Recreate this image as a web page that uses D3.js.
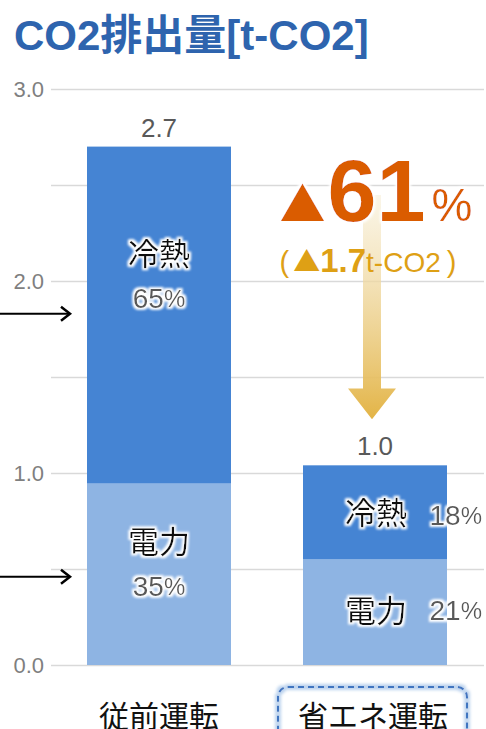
<!DOCTYPE html>
<html>
<head>
<meta charset="utf-8">
<script src="https://cdn.jsdelivr.net/npm/d3@7"></script>
<style>
  html, body { margin: 0; padding: 0; background: #fff; }
  svg { display: block; }
</style>
</head>
<body>
<div id="chart"></div>
<script>
const categories = ["従前運転", "省エネ運転"];
const seriesNames = ["電力", "冷熱"];
const powerValues = [0.945, 0.55];
const coolValues = [1.755, 0.49];
const totalLabels = ["2.7", "1.0"];
const powerShares = ["35", "21"];
const coolShares = ["65", "18"];
const yTicks = [0, 0.5, 1, 1.5, 2, 2.5, 3];

const W = 486, H = 729;
const jp = "'Noto Sans CJK JP', sans-serif";
const lat = "'Liberation Sans', Arial, sans-serif";

const svg = d3.select("#chart").append("svg")
  .attr("width", W).attr("height", H);

const defs = svg.append("defs");
const glow = defs.append("filter").attr("id", "glow")
  .attr("x", "-30%").attr("y", "-30%").attr("width", "160%").attr("height", "160%");
glow.append("feMorphology").attr("in", "SourceAlpha").attr("operator", "dilate").attr("radius", 2).attr("result", "d");
glow.append("feGaussianBlur").attr("in", "d").attr("stdDeviation", 1.2).attr("result", "b");
glow.append("feFlood").attr("flood-color", "#fff");
glow.append("feComposite").attr("in2", "b").attr("operator", "in").attr("result", "w");
const gm = glow.append("feMerge");
gm.append("feMergeNode").attr("in", "w");
gm.append("feMergeNode").attr("in", "SourceGraphic");

const boxGlow = defs.append("filter").attr("id", "boxGlow")
  .attr("x", "-20%").attr("y", "-50%").attr("width", "140%").attr("height", "200%");
boxGlow.append("feMorphology").attr("in", "SourceAlpha").attr("operator", "dilate").attr("radius", 2).attr("result", "d");
boxGlow.append("feGaussianBlur").attr("in", "d").attr("stdDeviation", 1.5).attr("result", "b");
boxGlow.append("feFlood").attr("flood-color", "#bcd3ee");
boxGlow.append("feComposite").attr("in2", "b").attr("operator", "in").attr("result", "w");
const bm = boxGlow.append("feMerge");
bm.append("feMergeNode").attr("in", "w");
bm.append("feMergeNode").attr("in", "SourceGraphic");

const grad = defs.append("linearGradient").attr("id", "arrowGrad")
  .attr("x1", 0).attr("y1", 0).attr("x2", 0).attr("y2", 1);
grad.append("stop").attr("offset", "0%").attr("stop-color", "#f7efd9").attr("stop-opacity", 0.6);
grad.append("stop").attr("offset", "100%").attr("stop-color", "#e3b446");

// scales
const y = d3.scaleLinear().domain([0, 3]).range([665, 89]);
const x = d3.scaleBand().domain(categories).range([51, 483])
  .paddingInner(1 / 3).paddingOuter(1 / 6);

// title
svg.append("text")
  .attr("x", 14).attr("y", 50)
  .attr("font-weight", "bold")
  .attr("font-size", 42).attr("fill", "#2e64ae")
  .style("font-family", "'Liberation Sans', 'Noto Sans CJK JP', sans-serif")
  .text("CO2排出量[t-CO2]");

// grid + axis
const yAxis = d3.axisLeft(y)
  .tickValues(yTicks)
  .tickSize(-(W - 2 - 51))
  .tickPadding(8)
  .tickFormat(d => Number.isInteger(d) ? d3.format(".1f")(d) : "");
const gy = svg.append("g").attr("transform", "translate(51,0)").call(yAxis);
gy.select(".domain").remove();
gy.selectAll("line").attr("stroke", "#d9d9d9").attr("stroke-width", 1.5);
gy.selectAll("text").attr("font-family", lat).attr("font-size", 22)
  .attr("fill", "#7f7f7f").attr("x", -7);

// stacked bars
const rows = categories.map((c, i) => ({ cat: c, 電力: powerValues[i], 冷熱: coolValues[i] }));
const stack = d3.stack().keys(seriesNames)(rows);
const colors = { "電力": "#8eb4e3", "冷熱": "#4584d3" };

svg.append("g").selectAll("g").data(stack).join("g")
  .attr("fill", d => colors[d.key])
  .selectAll("rect").data(d => d).join("rect")
  .attr("x", d => x(d.data.cat))
  .attr("y", d => y(d[1]))
  .attr("width", x.bandwidth())
  .attr("height", d => y(d[0]) - y(d[1]));

// total labels
svg.append("g").selectAll("text").data(categories).join("text")
  .attr("x", d => x(d) + x.bandwidth() / 2)
  .attr("y", (d, i) => y(powerValues[i] + coolValues[i]) - 10)
  .attr("text-anchor", "middle")
  .attr("font-family", lat).attr("font-size", 26).attr("fill", "#595959")
  .text((d, i) => totalLabels[i]);

// segment labels
const segLabel = (g, tx, ty, name, anchor) => {
  g.append("text")
    .attr("x", tx).attr("y", ty)
    .attr("text-anchor", anchor)
    .attr("dominant-baseline", "central")
    .attr("font-family", jp).attr("font-size", 31).attr("fill", "#111")
    .attr("filter", "url(#glow)")
    .text(name);
};
const pctLabel = (g, tx, ty, v, anchor) => {
  const t = g.append("text")
    .attr("x", tx).attr("y", ty)
    .attr("text-anchor", anchor)
    .attr("dominant-baseline", "central")
    .attr("font-family", lat).attr("font-size", 28).attr("fill", "#595959")
    .attr("filter", "url(#glow)");
  t.append("tspan").text(v);
  t.append("tspan").attr("font-size", 24).text("%");
};

const labels = svg.append("g");
// 従前運転: name above percentage
const c0 = x(categories[0]) + x.bandwidth() / 2;
const coolY0 = y(powerValues[0] + coolValues[0] * 0.69);
const powY0 = y(powerValues[0] * 0.69);
segLabel(labels, c0, coolY0, "冷熱", "middle");
pctLabel(labels, c0, coolY0 + 47, coolShares[0], "middle");
segLabel(labels, c0, powY0, "電力", "middle");
pctLabel(labels, c0, powY0 + 46, powerShares[0], "middle");

// 省エネ運転: name and percentage side by side
const x1 = x(categories[1]);
segLabel(labels, x1 + x.bandwidth() - 40, y(powerValues[1] + coolValues[1] / 2) - 2, "冷熱", "end");
pctLabel(labels, W - 4, y(powerValues[1] + coolValues[1] / 2) + 3, coolShares[1], "end");
segLabel(labels, x1 + x.bandwidth() - 40, y(powerValues[1] / 2) - 4, "電力", "end");
pctLabel(labels, W - 4, y(powerValues[1] / 2) - 2, powerShares[1], "end");

// reduction arrow (gradient)
const ax = 372;
const aTop = 195, aHeadY = y(1.44), aTip = y(1.28);
svg.append("path")
  .attr("d", `M${ax - 9},${aTop} L${ax + 9},${aTop} L${ax + 9},${aHeadY} L${ax + 24},${aHeadY} L${ax},${aTip} L${ax - 24},${aHeadY} L${ax - 9},${aHeadY} Z`)
  .attr("fill", "url(#arrowGrad)");

// reduction text
const big = svg.append("text")
  .attr("x", 376).attr("y", 221)
  .attr("text-anchor", "middle")
  .attr("font-family", lat).attr("fill", "#da5c00")
  .attr("filter", "url(#glow)");
big.append("tspan").attr("font-family", jp).attr("font-size", 46).text("▲");
big.append("tspan").attr("font-size", 88).attr("font-weight", "bold").attr("dx", 2).text("61");
big.append("tspan").attr("font-size", 46).attr("dx", 6).text("%");

const small = svg.append("text")
  .attr("x", 368).attr("y", 272)
  .attr("text-anchor", "middle")
  .attr("font-family", lat).attr("fill", "#dea015");
small.append("tspan").attr("font-size", 29).text("(");
small.append("tspan").attr("font-family", jp).attr("font-size", 27).attr("dx", 4).text("▲");
small.append("tspan").attr("font-size", 33).attr("font-weight", "bold").text("1.7");
small.append("tspan").attr("font-size", 28).text("t-CO2");
small.append("tspan").attr("font-size", 29).attr("dx", 6).text(")");

// left arrows
const leftArrows = svg.append("g").attr("stroke", "#000").attr("stroke-width", 2).attr("fill", "none");
[y(1.83), y(0.46)].forEach(ly => {
  leftArrows.append("line").attr("x1", 0).attr("x2", 69).attr("y1", ly).attr("y2", ly);
  leftArrows.append("path").attr("d", `M${61},${ly - 7} L${70},${ly} L${61},${ly + 7}`).attr("stroke-width", 2.5);
});

// category labels
const catG = svg.append("g");
catG.append("rect")
  .attr("x", x(categories[1]) - 25).attr("y", 687)
  .attr("width", x.bandwidth() + 45).attr("height", 60)
  .attr("rx", 10)
  .attr("fill", "none").attr("stroke", "#3f74c0").attr("stroke-width", 2)
  .attr("stroke-dasharray", "6 4")
  .attr("filter", "url(#boxGlow)");
catG.selectAll("text").data(categories).join("text")
  .attr("x", (d, i) => x(d) + x.bandwidth() / 2 + (i ? -2 : 0))
  .attr("y", 727)
  .attr("text-anchor", "middle")
  .attr("font-family", jp).attr("font-size", 30).attr("fill", "#111")
  .text(d => d);
</script>
</body>
</html>
